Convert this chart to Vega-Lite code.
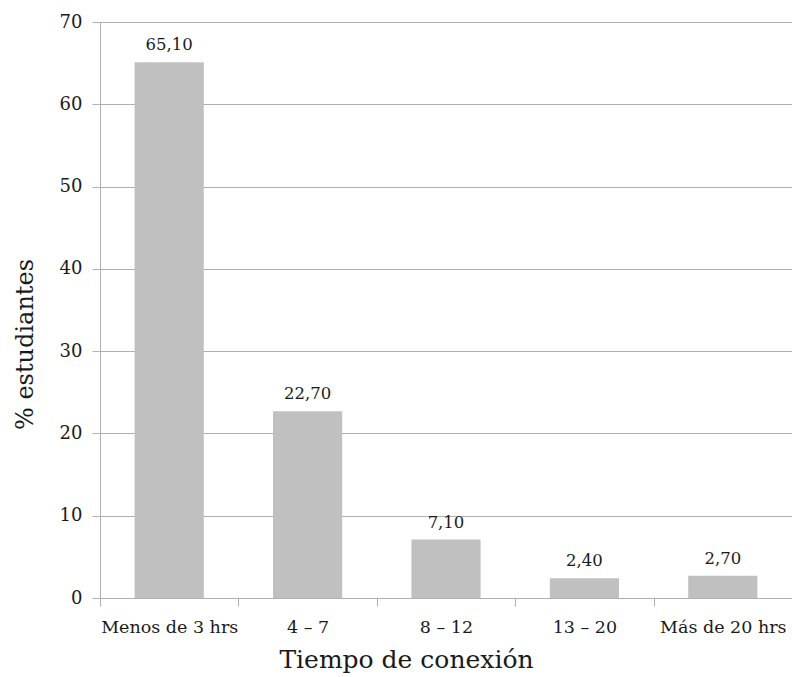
{
  "$schema": "https://vega.github.io/schema/vega-lite/v6.json",
  "width": 692,
  "height": 576,
  "autosize": {"type": "none"},
  "padding": {"left": 100, "top": 22, "right": 0, "bottom": 79},
  "background": "white",
  "config": {
    "view": {"stroke": null},
    "font": "DejaVu Serif"
  },
  "data": {
    "values": [
      {"tiempo": "Menos de 3 hrs", "pct": 65.1, "label": "65,10"},
      {"tiempo": "4 – 7", "pct": 22.7, "label": "22,70"},
      {"tiempo": "8 – 12", "pct": 7.1, "label": "7,10"},
      {"tiempo": "13 – 20", "pct": 2.4, "label": "2,40"},
      {"tiempo": "Más de 20 hrs", "pct": 2.7, "label": "2,70"}
    ]
  },
  "encoding": {
    "x": {
      "field": "tiempo",
      "type": "nominal",
      "sort": null,
      "scale": {"paddingInner": 0, "paddingOuter": 0},
      "axis": {
        "title": "Tiempo de conexión",
        "titleFont": "DejaVu Serif",
        "titleFontSize": 25,
        "titleFontWeight": "normal",
        "titleColor": "#1a1a1a",
        "titlePadding": 12,
        "titleX": 306,
        "labelAngle": 0,
        "labelFont": "DejaVu Serif",
        "labelFontSize": 17.5,
        "labelColor": "#1a1a1a",
        "labelPadding": 12,
        "tickBand": "extent",
        "tickSize": 8,
        "tickColor": "#b0b0b0",
        "domainColor": "#b0b0b0",
        "grid": false
      }
    }
  },
  "layer": [
    {
      "mark": {"type": "bar", "color": "#c0c0c0", "width": {"band": 0.5}},
      "encoding": {
        "y": {
          "field": "pct",
          "type": "quantitative",
          "scale": {"domain": [0, 70], "nice": false},
          "axis": {
            "title": "% estudiantes",
            "titleFont": "DejaVu Serif",
            "titleFontSize": 24,
            "titleFontWeight": "normal",
            "titleColor": "#1a1a1a",
            "titlePadding": 22,
            "titleY": 322,
            "values": [0, 10, 20, 30, 40, 50, 60, 70],
            "labelFont": "DejaVu Serif",
            "labelFontSize": 18,
            "labelColor": "#1a1a1a",
            "labelPadding": 10,
            "tickSize": 8,
            "tickColor": "#b0b0b0",
            "domainColor": "#b0b0b0",
            "gridColor": "#b0b0b0",
            "grid": true
          }
        }
      }
    },
    {
      "mark": {"type": "text", "baseline": "bottom", "dy": -9, "font": "DejaVu Serif", "fontSize": 16.5, "color": "#1a1a1a"},
      "encoding": {
        "y": {"field": "pct", "type": "quantitative"},
        "text": {"field": "label"}
      }
    }
  ]
}
